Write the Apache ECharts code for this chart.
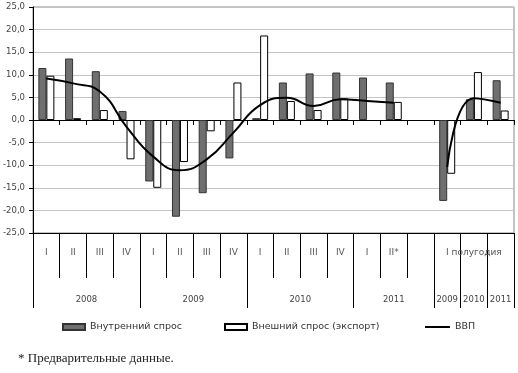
<!DOCTYPE html>
<html>
<head>
<meta charset="utf-8">
<script src="https://cdn.jsdelivr.net/npm/echarts@6/dist/echarts.min.js"></script>
<style>
html,body{margin:0;padding:0;background:#fff;}
#chart{width:518px;height:373px;}
</style>
</head>
<body>
<div id="chart"></div>
<script>
// ---- data ----
var quarterLabels = ['I','II','III','IV','I','II','III','IV','I','II','III','IV','I','II*','','','I полугодия',''];
var yearLabels = ['2008','2009','2010','2011','2009','2010','2011'];
var yearSpans = [4,4,4,3,1,1,1];
var seriesNames = ['Внутренний спрос','Внешний спрос (экспорт)','ВВП'];
var domestic = [11.5, 13.6, 10.8, 2.0, -13.6, -21.4, -16.2, -8.5, 0.4, 8.3, 10.3, 10.5, 9.4, 8.3, null, -17.9, 4.6, 8.8];
var external = [9.8, 0.4, 2.2, -8.7, -15.0, -9.3, -2.5, 8.3, 18.7, 4.2, 2.2, 4.8, null, 4.0, null, -11.9, 10.6, 2.1];
var gdp = [9.2, 8.1, 6.3, -1.5, -8.1, -11.1, -8.7, -2.8, 3.3, 4.9, 3.1, 4.6, 4.2, 3.8, null, -10.4, 4.8, 3.8];
var footnote = '* Предварительные данные.';

// derived year boundaries / centers
var yearBounds = [0], yearCenters = [], acc = 0;
yearSpans.forEach(function (s) { yearCenters.push(acc + s / 2); acc += s; yearBounds.push(acc); });
var nCat = quarterLabels.length;

var FONT = 'DejaVu Sans';
var chart = echarts.init(document.getElementById('chart'), null, {renderer: 'canvas'});
var option = {
  animation: false,
  backgroundColor: '#fff',
  grid: {left: 33, right: 4, top: 7, bottom: 140, show: true, borderColor: '#8a8a8a', borderWidth: 1, containLabel: false},
  legend: [
    {data: [{name: seriesNames[0], icon: 'rect'}], left: 62, top: 322, itemWidth: 22, itemHeight: 6, padding: 0,
     textStyle: {fontFamily: FONT, fontSize: 9.5, color: '#333'}},
    {data: [{name: seriesNames[1], icon: 'rect'}], left: 224, top: 322, itemWidth: 22, itemHeight: 6, padding: 0,
     textStyle: {fontFamily: FONT, fontSize: 9.5, color: '#333'}},
    {data: [{name: seriesNames[2], icon: 'rect'}], left: 425, top: 322, itemWidth: 25, itemHeight: 2, padding: 0,
     textStyle: {fontFamily: FONT, fontSize: 9.5, color: '#333'}}
  ],
  xAxis: [
    {type: 'category', data: quarterLabels, position: 'bottom',
     axisLine: {onZero: true, lineStyle: {color: '#000', width: 1}},
     axisTick: {show: true, length: 5, interval: 0, lineStyle: {color: '#000'}},
     axisLabel: {show: false}, splitLine: {show: false}},
    {type: 'category', data: quarterLabels, position: 'bottom', offset: 0,
     axisLine: {onZero: false, show: true, lineStyle: {color: '#000', width: 1}},
     axisTick: {show: true, length: 45, interval: 0, lineStyle: {color: '#000'}},
     axisLabel: {show: true, interval: 0, margin: 15, fontFamily: FONT, fontSize: 9, color: '#555'},
     splitLine: {show: false}},
    {type: 'value', min: 0, max: nCat, position: 'bottom', offset: 0,
     axisLine: {onZero: false, show: false},
     axisTick: {show: true, length: 75, customValues: yearBounds, lineStyle: {color: '#000'}},
     axisLabel: {show: true, margin: 62, customValues: yearCenters, hideOverlap: false,
       fontFamily: FONT, fontSize: 8.5, color: '#444',
       formatter: function (v) { var i = yearCenters.indexOf(v); return i >= 0 ? yearLabels[i] : ''; }},
     splitLine: {show: false}}
  ],
  yAxis: {type: 'value', min: -25, max: 25, interval: 5,
    axisLine: {show: true, onZero: false, lineStyle: {color: '#000', width: 1}},
    axisTick: {show: true, length: 4, lineStyle: {color: '#000'}},
    axisLabel: {margin: 8, fontFamily: FONT, fontSize: 8.5, color: '#444',
      formatter: function (v) { return v.toFixed(1).replace('.', ','); }},
    splitLine: {show: true, lineStyle: {color: '#c4c4c4', width: 1}}
  },
  series: [
    {name: seriesNames[0], type: 'bar', xAxisIndex: 0, data: domestic, barWidth: 8, barGap: '0%',
     itemStyle: {color: '#6f6f6f', borderColor: '#333', borderWidth: 1}},
    {name: seriesNames[1], type: 'bar', xAxisIndex: 0, data: external, barWidth: 8, barGap: '0%',
     itemStyle: {color: '#fff', borderColor: '#000', borderWidth: 1}},
    {name: seriesNames[2], type: 'line', xAxisIndex: 0, data: gdp, smooth: 0.5, symbol: 'none',
     connectNulls: false, lineStyle: {color: '#000', width: 2}, itemStyle: {color: '#000'}, z: 5}
  ],
  graphic: [
    {type: 'text', left: 18, top: 352, style: {text: footnote, fontFamily: 'Liberation Serif', fontSize: 13, fill: '#222'}}
  ]
};
chart.setOption(option);
</script>
</body>
</html>
